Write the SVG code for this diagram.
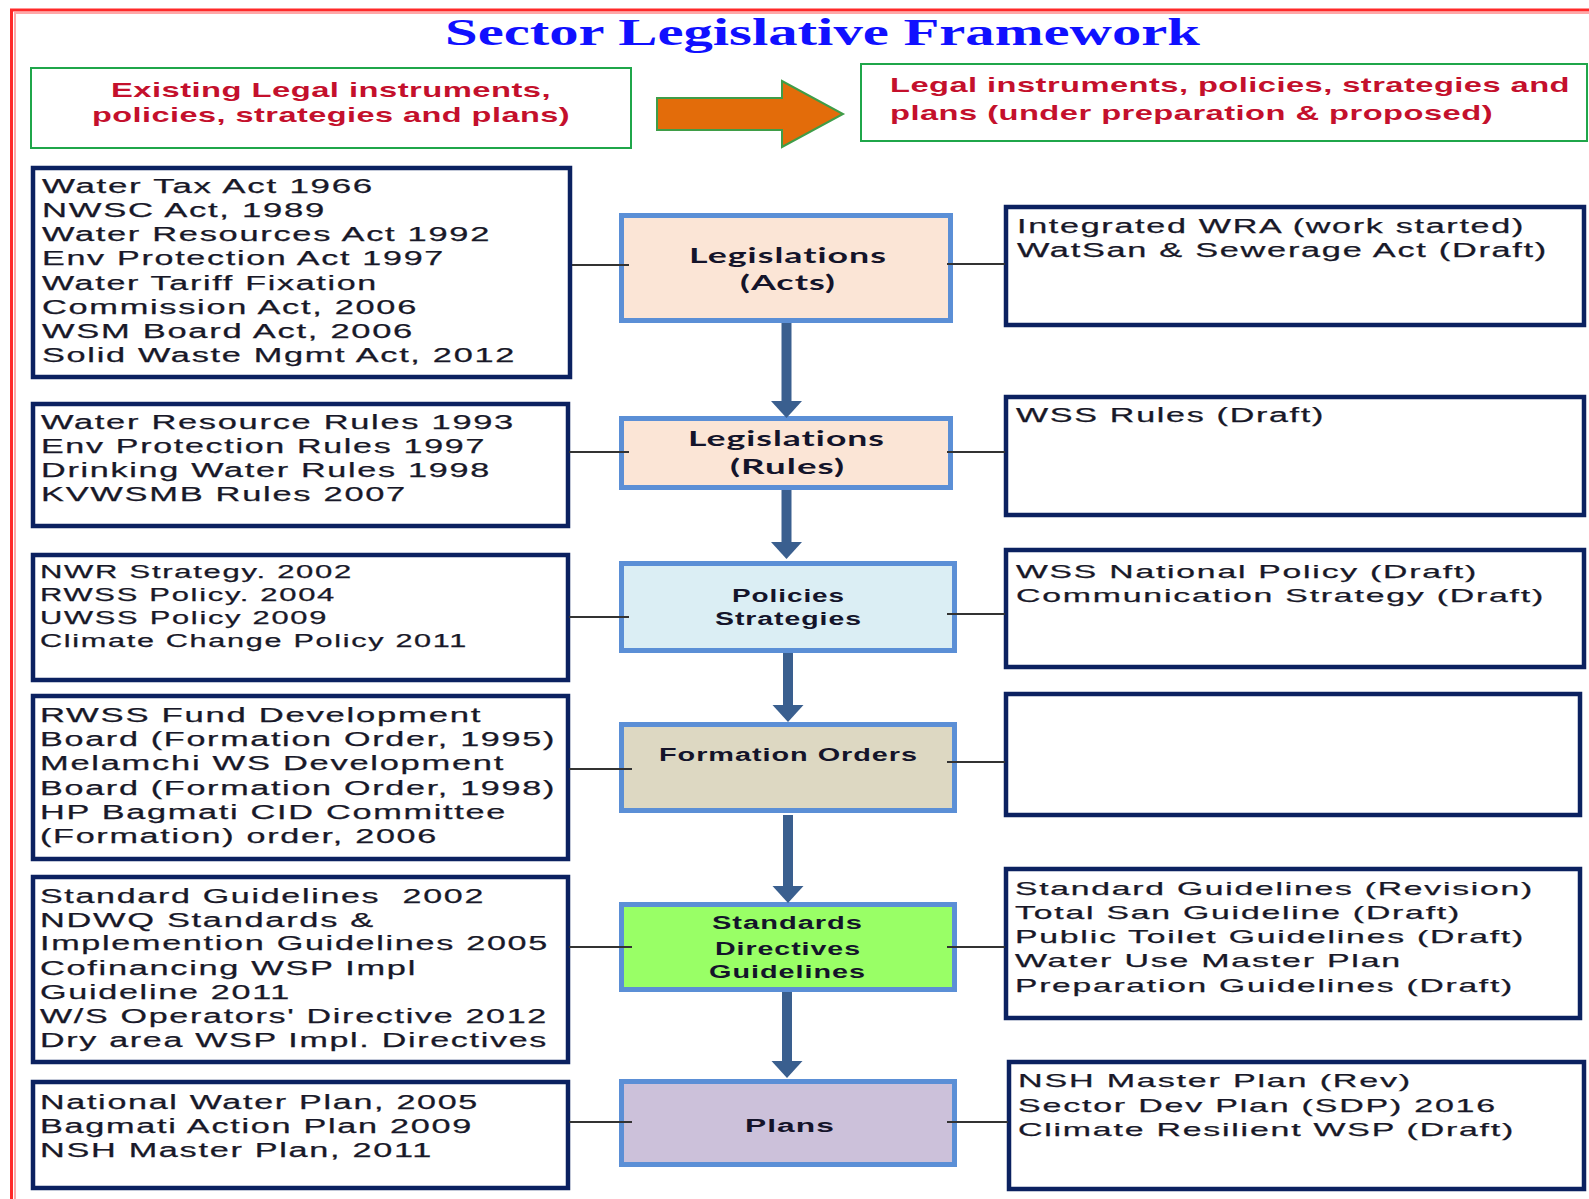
<svg xmlns="http://www.w3.org/2000/svg" width="1589" height="1199" viewBox="0 0 1589 1199">
<defs>
<style>
.frame{fill:none;stroke:#ff2a2a;stroke-width:3}
.halo{fill:none;stroke:#ffa8a8;stroke-width:2}
.title{font-family:"Liberation Serif","Times New Roman",serif;font-weight:bold;font-size:38px;fill:#1010ff}
.hbox{fill:#fff;stroke:#1fa64a;stroke-width:2}
.htxt{font-family:"Liberation Sans",Arial,sans-serif;font-weight:bold;font-size:21px;fill:#c4102c;letter-spacing:0.3px}
.lbox{fill:#fff;stroke:#0b2160;stroke-width:4.5}
.txt{font-family:"Liberation Sans",Arial,sans-serif;font-size:20px;fill:#181828;letter-spacing:1px;white-space:pre;stroke:#181828;stroke-width:0.25}
.s18{font-size:18px}
.s19{font-size:19px}
.cbox{stroke:#5b8fd6;stroke-width:5}
.ctxt{font-family:"Liberation Sans",Arial,sans-serif;font-weight:bold;font-size:18px;fill:#14142a;letter-spacing:0.6px}
.cal{font-family:Lato,"Liberation Sans",sans-serif;font-size:21px}
.thin{stroke:#333;stroke-width:2;fill:none}
.thick{stroke:#3a5f8f;stroke-width:10;fill:none;marker-end:url(#head)}
</style>
<marker id="head" markerUnits="userSpaceOnUse" viewBox="0 -16 17 32" markerWidth="17" markerHeight="32" refX="0" refY="0" orient="auto">
<path d="M0,-15.5 L17,0 L0,15.5 z" fill="#3a5f8f"/>
</marker>
</defs>
<rect width="1589" height="1199" fill="#fff"/>
<g id="frame">
<path class="halo" d="M15 1199 V13 H1589"/>
<path class="frame" d="M11.5 1199 V10 H1589"/>
</g>
<text id="title" class="title" x="445" y="45" textLength="755" lengthAdjust="spacingAndGlyphs">Sector Legislative Framework</text>

<g id="header-existing">
<rect class="hbox" x="31" y="68" width="600" height="80"/>
<text class="htxt" x="111" y="97" textLength="440" lengthAdjust="spacingAndGlyphs">Existing Legal instruments,</text>
<text class="htxt" x="92" y="122" textLength="478" lengthAdjust="spacingAndGlyphs">policies, strategies and plans)</text>
</g>
<g id="header-arrow">
<path d="M657 98 H782 V81 L843 114 L782 147 V130 H657 Z" fill="#e36c0a" stroke="#3f9d48" stroke-width="2"/>
</g>
<g id="header-proposed">
<rect class="hbox" x="861" y="64" width="726" height="77"/>
<text class="htxt" x="890" y="92" textLength="680" lengthAdjust="spacingAndGlyphs">Legal instruments, policies, strategies and</text>
<text class="htxt" x="890" y="120" textLength="603" lengthAdjust="spacingAndGlyphs">plans (under preparation &amp; proposed)</text>
</g>

<g id="acts">
<rect class="cbox" x="621.5" y="215.5" width="329" height="105" fill="#fbe5d6"/>
<text class="ctxt cal" x="689" y="263" textLength="198" lengthAdjust="spacingAndGlyphs">Legislations</text>
<text class="ctxt cal" x="740" y="290" textLength="96" lengthAdjust="spacingAndGlyphs">(Acts)</text>
</g>
<g id="rules">
<rect class="cbox" x="621.5" y="418.5" width="329" height="69" fill="#fbe5d6"/>
<text class="ctxt cal" x="688" y="446" textLength="197" lengthAdjust="spacingAndGlyphs">Legislations</text>
<text class="ctxt cal" x="730" y="474" textLength="115" lengthAdjust="spacingAndGlyphs">(Rules)</text>
</g>
<g id="policies">
<rect class="cbox" x="621.5" y="563.5" width="333" height="87" fill="#dbeef4"/>
<text class="ctxt" x="732" y="602" textLength="113" lengthAdjust="spacingAndGlyphs">Policies</text>
<text class="ctxt" x="715" y="625" textLength="147" lengthAdjust="spacingAndGlyphs">Strategies</text>
</g>
<g id="formation">
<rect class="cbox" x="621.5" y="724.5" width="333" height="86" fill="#ddd8c2"/>
<text class="ctxt" x="659" y="761" textLength="259" lengthAdjust="spacingAndGlyphs">Formation Orders</text>
</g>
<g id="standards">
<rect class="cbox" x="621.5" y="904.5" width="333" height="85" fill="#99ff66"/>
<text class="ctxt" x="712" y="929" textLength="151" lengthAdjust="spacingAndGlyphs">Standards</text>
<text class="ctxt" x="715" y="955" textLength="146" lengthAdjust="spacingAndGlyphs">Directives</text>
<text class="ctxt" x="709" y="978" textLength="157" lengthAdjust="spacingAndGlyphs">Guidelines</text>
</g>
<g id="plans">
<rect class="cbox" x="621.5" y="1081.5" width="333" height="83" fill="#ccc1da"/>
<text class="ctxt" x="745" y="1132" textLength="90" lengthAdjust="spacingAndGlyphs">Plans</text>
</g>

<g id="existing-acts">
<rect class="lbox" x="33" y="168" width="537" height="209"/>
<text class="txt" x="42" y="193" textLength="332" lengthAdjust="spacingAndGlyphs">Water Tax Act 1966</text>
<text class="txt" x="42" y="217" textLength="284" lengthAdjust="spacingAndGlyphs">NWSC Act, 1989</text>
<text class="txt" x="42" y="241" textLength="449" lengthAdjust="spacingAndGlyphs">Water Resources Act 1992</text>
<text class="txt" x="42" y="265" textLength="403" lengthAdjust="spacingAndGlyphs">Env Protection Act 1997</text>
<text class="txt" x="42" y="290" textLength="336" lengthAdjust="spacingAndGlyphs">Water Tariff Fixation</text>
<text class="txt" x="42" y="314" textLength="376" lengthAdjust="spacingAndGlyphs">Commission Act, 2006</text>
<text class="txt" x="42" y="338" textLength="372" lengthAdjust="spacingAndGlyphs">WSM Board Act, 2006</text>
<text class="txt" x="42" y="362" textLength="474" lengthAdjust="spacingAndGlyphs">Solid Waste Mgmt Act, 2012</text>
</g>
<g id="existing-rules">
<rect class="lbox" x="33" y="404" width="535" height="122"/>
<text class="txt" x="41" y="429" textLength="474" lengthAdjust="spacingAndGlyphs">Water Resource Rules 1993</text>
<text class="txt" x="41" y="453" textLength="445" lengthAdjust="spacingAndGlyphs">Env Protection Rules 1997</text>
<text class="txt" x="41" y="477" textLength="450" lengthAdjust="spacingAndGlyphs">Drinking Water Rules 1998</text>
<text class="txt" x="41" y="501" textLength="366" lengthAdjust="spacingAndGlyphs">KVWSMB Rules 2007</text>
</g>
<g id="existing-policies">
<rect class="lbox" x="33" y="555" width="535" height="125"/>
<text class="txt s18" x="40" y="578" textLength="313" lengthAdjust="spacingAndGlyphs">NWR Strategy. 2002</text>
<text class="txt s18" x="40" y="601" textLength="296" lengthAdjust="spacingAndGlyphs">RWSS Policy. 2004</text>
<text class="txt s18" x="40" y="624" textLength="288" lengthAdjust="spacingAndGlyphs">UWSS Policy 2009</text>
<text class="txt s18" x="40" y="647" textLength="428" lengthAdjust="spacingAndGlyphs">Climate Change Policy 2011</text>
</g>
<g id="existing-formation">
<rect class="lbox" x="33" y="696" width="535" height="163"/>
<text class="txt" x="40" y="722" textLength="442" lengthAdjust="spacingAndGlyphs">RWSS Fund Development</text>
<text class="txt" x="40" y="746" textLength="516" lengthAdjust="spacingAndGlyphs">Board (Formation Order, 1995)</text>
<text class="txt" x="40" y="770" textLength="465" lengthAdjust="spacingAndGlyphs">Melamchi WS Development</text>
<text class="txt" x="40" y="795" textLength="516" lengthAdjust="spacingAndGlyphs">Board (Formation Order, 1998)</text>
<text class="txt" x="40" y="819" textLength="467" lengthAdjust="spacingAndGlyphs">HP Bagmati CID Committee</text>
<text class="txt" x="40" y="843" textLength="398" lengthAdjust="spacingAndGlyphs">(Formation) order, 2006</text>
</g>
<g id="existing-standards">
<rect class="lbox" x="33" y="877" width="535" height="185"/>
<text class="txt" x="40" y="903" textLength="445" lengthAdjust="spacingAndGlyphs">Standard Guidelines  2002</text>
<text class="txt" x="40" y="927" textLength="335" lengthAdjust="spacingAndGlyphs">NDWQ Standards &amp;</text>
<text class="txt" x="40" y="950" textLength="509" lengthAdjust="spacingAndGlyphs">Implemention Guidelines 2005</text>
<text class="txt" x="40" y="975" textLength="377" lengthAdjust="spacingAndGlyphs">Cofinancing WSP Impl</text>
<text class="txt" x="40" y="999" textLength="251" lengthAdjust="spacingAndGlyphs">Guideline 2011</text>
<text class="txt" x="40" y="1023" textLength="508" lengthAdjust="spacingAndGlyphs">W/S Operators' Directive 2012</text>
<text class="txt" x="40" y="1047" textLength="508" lengthAdjust="spacingAndGlyphs">Dry area WSP Impl. Directives</text>
</g>
<g id="existing-plans">
<rect class="lbox" x="33" y="1082" width="535" height="106"/>
<text class="txt" x="40" y="1109" textLength="439" lengthAdjust="spacingAndGlyphs">National Water Plan, 2005</text>
<text class="txt" x="40" y="1133" textLength="433" lengthAdjust="spacingAndGlyphs">Bagmati Action Plan 2009</text>
<text class="txt" x="40" y="1157" textLength="393" lengthAdjust="spacingAndGlyphs">NSH Master Plan, 2011</text>
</g>

<g id="proposed-acts">
<rect class="lbox" x="1006" y="207" width="578" height="118"/>
<text class="txt" x="1017" y="233" textLength="508" lengthAdjust="spacingAndGlyphs">Integrated WRA (work started)</text>
<text class="txt" x="1017" y="257" textLength="531" lengthAdjust="spacingAndGlyphs">WatSan &amp; Sewerage Act (Draft)</text>
</g>
<g id="proposed-rules">
<rect class="lbox" x="1006" y="397" width="578" height="118"/>
<text class="txt" x="1016" y="422" textLength="309" lengthAdjust="spacingAndGlyphs">WSS Rules (Draft)</text>
</g>
<g id="proposed-policies">
<rect class="lbox" x="1006" y="550" width="578" height="117"/>
<text class="txt s19" x="1016" y="578" textLength="462" lengthAdjust="spacingAndGlyphs">WSS National Policy (Draft)</text>
<text class="txt s19" x="1016" y="602" textLength="529" lengthAdjust="spacingAndGlyphs">Communication Strategy (Draft)</text>
</g>
<g id="proposed-formation">
<rect class="lbox" x="1006" y="694" width="574" height="121"/>
</g>
<g id="proposed-standards">
<rect class="lbox" x="1006" y="869" width="574" height="149"/>
<text class="txt s19" x="1015" y="895" textLength="519" lengthAdjust="spacingAndGlyphs">Standard Guidelines (Revision)</text>
<text class="txt s19" x="1015" y="919" textLength="446" lengthAdjust="spacingAndGlyphs">Total San Guideline (Draft)</text>
<text class="txt s19" x="1015" y="943" textLength="510" lengthAdjust="spacingAndGlyphs">Public Toilet Guidelines (Draft)</text>
<text class="txt s19" x="1015" y="967" textLength="387" lengthAdjust="spacingAndGlyphs">Water Use Master Plan</text>
<text class="txt s19" x="1015" y="992" textLength="499" lengthAdjust="spacingAndGlyphs">Preparation Guidelines (Draft)</text>
</g>
<g id="proposed-plans">
<rect class="lbox" x="1009" y="1062" width="575" height="127"/>
<text class="txt s19" x="1018" y="1087" textLength="394" lengthAdjust="spacingAndGlyphs">NSH Master Plan (Rev)</text>
<text class="txt s19" x="1018" y="1112" textLength="479" lengthAdjust="spacingAndGlyphs">Sector Dev Plan (SDP) 2016</text>
<text class="txt s19" x="1018" y="1136" textLength="497" lengthAdjust="spacingAndGlyphs">Climate Resilient WSP (Draft)</text>
</g>

<g id="connectors">
<path class="thick" d="M786.5 323 V401"/>
<path class="thick" d="M786.5 490 V542"/>
<path class="thick" d="M788 653 V705"/>
<path class="thick" d="M788 815 V886"/>
<path class="thick" d="M787 992 V1061"/>
<path class="thin" d="M572 265 H629"/>
<path class="thin" d="M569 452 H629"/>
<path class="thin" d="M569 617 H629"/>
<path class="thin" d="M569 769 H632"/>
<path class="thin" d="M569 947 H632"/>
<path class="thin" d="M569 1122 H632"/>
<path class="thin" d="M947 264 H1005"/>
<path class="thin" d="M947 452 H1005"/>
<path class="thin" d="M947 614 H1005"/>
<path class="thin" d="M947 762 H1005"/>
<path class="thin" d="M947 947 H1005"/>
<path class="thin" d="M947 1122 H1008"/>
</g>
</svg>
